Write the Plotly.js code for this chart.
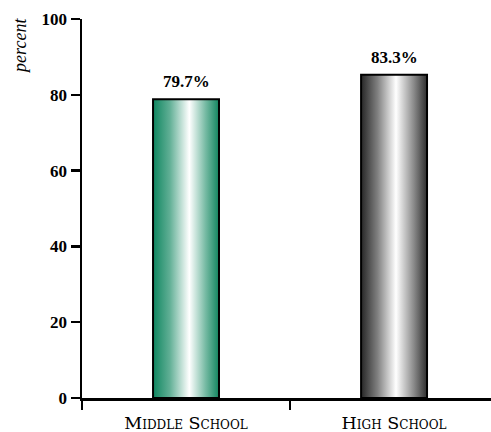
<!DOCTYPE html>
<html>
<head>
<meta charset="utf-8">
<script src="https://cdn.plot.ly/plotly-3.0.1.min.js"></script>
<style>html,body{margin:0;padding:0;background:#fff;}#chart{width:491px;height:432px;}</style>
</head>
<body>
<div id="chart"></div>
<script>
// Data
var categories = ['Middle School', 'High School'];
var barHeights = [78.8, 85.3];          // bar heights as drawn
var valueLabels = ['79.7%', '83.3%'];   // printed labels
var yTicks = [0, 20, 40, 60, 80, 100];

var gradients = [
  {id: 'gGreen', stops: [['0%', '#0f8660'], ['25%', '#5fae94'], ['55%', '#ffffff'], ['80%', '#74b9a2'], ['100%', '#12855f']]},
  {id: 'gGray', stops: [['0%', '#262626'], ['25%', '#808080'], ['53%', '#ffffff'], ['80%', '#8a8a8a'], ['100%', '#2e2e2e']]}
];

var serif = 'Liberation Serif, DejaVu Serif, serif';
var wideSerif = 'DejaVu Serif, Liberation Serif, serif';

var trace = {
  type: 'bar',
  x: categories,
  y: barHeights,
  width: 0.317,
  marker: {color: ['#3a9a7a', '#8a8a8a'], line: {color: '#000', width: 2}},
  hoverinfo: 'none'
};

var annotations = categories.map(function (c, i) {
  return {
    x: c, y: barHeights[i], xref: 'x', yref: 'y',
    text: valueLabels[i], showarrow: false,
    yanchor: 'bottom', yshift: 6,
    font: {family: serif, size: 17, weight: 'bold', color: '#000'}
  };
});
annotations.push({
  xref: 'paper', yref: 'paper', x: 0, y: 0.929, xshift: -62,
  text: 'percent', showarrow: false, textangle: -90,
  xanchor: 'center', yanchor: 'middle',
  font: {family: serif, size: 18, style: 'italic', color: '#000'}
});

var layout = {
  width: 491, height: 432,
  margin: {l: 82, r: 0, t: 19, b: 34},
  paper_bgcolor: '#fff', plot_bgcolor: '#fff',
  showlegend: false,
  xaxis: {
    type: 'category',
    range: [-0.5, 1.466],
    showline: true, linecolor: '#000', linewidth: 2.5,
    ticks: 'outside', tickson: 'boundaries', ticklen: 9, tickwidth: 2.5, tickcolor: '#000',
    showgrid: false, zeroline: false,
    ticklabelstandoff: 7,
    tickfont: {family: wideSerif, size: 17.5, variant: 'small-caps', color: '#000'}
  },
  yaxis: {
    range: [0, 100],
    tickvals: yTicks, ticktext: yTicks.map(String),
    showline: true, linecolor: '#000', linewidth: 2.5,
    ticks: 'outside', ticklen: 9, tickwidth: 2.5, tickcolor: '#000',
    showgrid: false, zeroline: false,
    tickfont: {family: serif, size: 17, weight: 'bold', color: '#000'}
  },
  annotations: annotations
};

Plotly.newPlot('chart', [trace], layout, {displayModeBar: false, staticPlot: true}).then(function (gd) {
  var svg = gd.querySelector('svg.main-svg');
  var ns = 'http://www.w3.org/2000/svg';
  var defs = svg.querySelector('defs') || svg.insertBefore(document.createElementNS(ns, 'defs'), svg.firstChild);
  gradients.forEach(function (g) {
    var lg = document.createElementNS(ns, 'linearGradient');
    lg.setAttribute('id', g.id);
    lg.setAttribute('x1', '0'); lg.setAttribute('y1', '0');
    lg.setAttribute('x2', '1'); lg.setAttribute('y2', '0');
    g.stops.forEach(function (s) {
      var st = document.createElementNS(ns, 'stop');
      st.setAttribute('offset', s[0]);
      st.setAttribute('stop-color', s[1]);
      lg.appendChild(st);
    });
    defs.appendChild(lg);
  });
  var paths = gd.querySelectorAll('.barlayer .point path');
  paths.forEach(function (p, i) {
    p.style.fill = 'url(#' + gradients[i % gradients.length].id + ')';
    p.style.fillOpacity = 1;
  });
});
</script>
</body>
</html>
